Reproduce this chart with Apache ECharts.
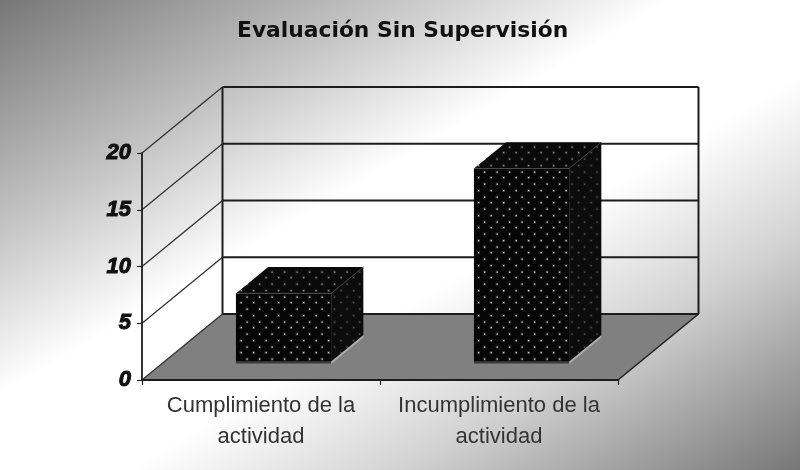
<!DOCTYPE html>
<html><head><meta charset="utf-8">
<style>html,body{margin:0;padding:0;background:#fff}#c{width:800px;height:470px;filter:blur(0.4px)}</style>
<script src="https://cdn.jsdelivr.net/npm/echarts@6/dist/echarts.min.js"></script>
</head><body><div id="c"></div>
<script>
const titleText = 'Evaluación Sin Supervisión';
const categories = ['Cumplimiento de la\nactividad', 'Incumplimiento de la\nactividad'];
const values = [6, 17];
const yTicks = [0, 5, 10, 15, 20];

const DX = 80.5, DY = 66;          // depth of the 3D box
const BAR_W = 0.4, D0 = 0.28, D1 = 0.68; // bar width (of band), depth start/end

function dots(bg, dot, dim) {
  const c = document.createElement('canvas');
  c.width = 25; c.height = 25;
  const g = c.getContext('2d');
  g.fillStyle = bg; g.fillRect(0, 0, 25, 25);
  [[3,2],[15.5,2],[9,8.5],[21.5,8.5],[3,15],[15.5,15],[9,21.5],[21.5,21.5]].forEach(p => {
    g.fillStyle = dim; g.fillRect(p[0]-1, p[1]-1, 3, 3);
    g.fillStyle = dot; g.fillRect(p[0], p[1], 1.3, 1.3);
  });
  return c;
}
const frontPat = { image: dots('#060606', '#cfcfcf', '#2c2c2c'), repeat: 'repeat' };
const topPat   = { image: dots('#0a0a0a', '#8c8c8c', '#242424'), repeat: 'repeat' };
const sidePat  = { image: dots('#0c0c0c', '#555555', '#1a1a1a'), repeat: 'repeat' };

function poly(points, style) { return { type: 'polygon', shape: { points }, style }; }
function line(a, b, stroke, lineWidth) {
  return { type: 'line', shape: { x1: a[0], y1: a[1], x2: b[0], y2: b[1] }, style: { stroke, lineWidth } };
}
const off = (p, t) => [p[0] + DX * t, p[1] - DY * t];

function renderWall(params, api) {
  const v = api.value(0);
  const band = api.size([1, 0])[0];
  const left = api.coord([0, v])[0] - band / 2;
  const right = left + band * categories.length;
  const y = api.coord([0, v])[1];
  const a = [left, y], b = [right, y], bk = off(a, 1), br = off(b, 1);
  const kids = [];
  if (v === yTicks[0]) {
    kids.push(poly([a, b, br, bk], { fill: '#808080', stroke: null }));
    kids.push(line(b, br, '#222', 1.6));
  }
  kids.push(line(a, bk, '#333', 1.3));
  kids.push(line(bk, br, '#1c1c1c', 2));
  if (v === yTicks[yTicks.length - 1]) {
    const yb = api.coord([0, yTicks[0]])[1];
    kids.push(line(bk, off([left, yb], 1), '#1c1c1c', 2));
    kids.push(line(br, off([right, yb], 1), '#1c1c1c', 2));
  }
  return { type: 'group', children: kids };
}

function renderBar(params, api) {
  const i = api.value(0), v = api.value(1);
  const base = api.coord([i, 0]), top = api.coord([i, v]);
  const w = api.size([1, 0])[0] * BAR_W;
  const f = (x, y) => off([x, y], D0), k = (x, y) => off([x, y], D1);
  const xl = base[0] - w / 2, xr = base[0] + w / 2, yt = top[1], yb = base[1];
  return { type: 'group', children: [
    poly([f(xr, yb), k(xr, yb), k(xr, yb + 2.5), f(xr, yb + 2.5)], { fill: '#b0b0b0' }),
    poly([f(xl, yb), f(xr, yb), f(xr, yb + 2), f(xl, yb + 2)], { fill: '#3a3a3a' }),
    poly([f(xl, yt), f(xr, yt), k(xr, yt), k(xl, yt)], { fill: topPat }),
    poly([f(xr, yt), k(xr, yt), k(xr, yb), f(xr, yb)], { fill: sidePat }),
    poly([f(xl, yt), f(xr, yt), f(xr, yb), f(xl, yb)], { fill: frontPat }),
    line(f(xl, yt), f(xr, yt), '#4a4a4a', 1),
    line(f(xr, yt), k(xr, yt), '#3a3a3a', 1)
  ] };
}

const chart = echarts.init(document.getElementById('c'), null, { renderer: 'canvas' });
chart.setOption({
  animation: false,
  backgroundColor: '#ffffff',
  graphic: [{
    type: 'rect', silent: true, z: -10, shape: { x: 0, y: 0, width: 800, height: 470 },
    style: { fill: { type: 'linear', x: 195, y: -114, x2: 605, y2: 584, global: true, colorStops: [
      { offset: 0, color: '#777777' }, { offset: 0.25, color: '#c6c6c6' }, { offset: 0.42, color: '#ffffff' },
      { offset: 0.58, color: '#ffffff' }, { offset: 0.75, color: '#d2d2d2' }, { offset: 1, color: '#777777' }
    ] } }
  }],
  title: {
    text: titleText, left: 232, top: 15,
    textStyle: { fontFamily: 'DejaVu Sans', fontWeight: 'bold', fontSize: 21.8, color: '#111' }
  },
  grid: { left: 142, right: 182, top: 153, bottom: 90, containLabel: false },
  xAxis: {
    type: 'category', data: categories, z: 5,
    axisLine: { show: true, lineStyle: { color: '#1c1c1c', width: 1.8 } },
    axisTick: { show: true, length: 5, alignWithLabel: false, lineStyle: { color: '#222', width: 1.2 } },
    axisLabel: { margin: 10, interval: 0, fontFamily: 'Liberation Sans', fontSize: 22, lineHeight: 31, color: '#333' }
  },
  yAxis: {
    type: 'value', min: 0, max: 20, interval: 5, z: 5,
    axisLine: { show: true, lineStyle: { color: '#1c1c1c', width: 1.8 } },
    axisTick: { show: true, length: 5, lineStyle: { color: '#222', width: 1.2 } },
    splitLine: { show: false },
    axisLabel: { margin: 11, fontFamily: 'Liberation Sans', fontWeight: 'bold', fontStyle: 'italic', fontSize: 22, color: '#111',
      textBorderColor: '#111', textBorderWidth: 1 }
  },
  series: [
    { type: 'custom', name: 'walls', z: 1, silent: true, clip: false, renderItem: renderWall,
      encode: { y: 0 }, data: yTicks.map(v => [v]) },
    { type: 'custom', name: 'bars', z: 3, silent: true, clip: false, renderItem: renderBar,
      encode: { x: 0, y: 1 }, data: values.map((v, i) => [i, v]) }
  ]
});
</script></body></html>
